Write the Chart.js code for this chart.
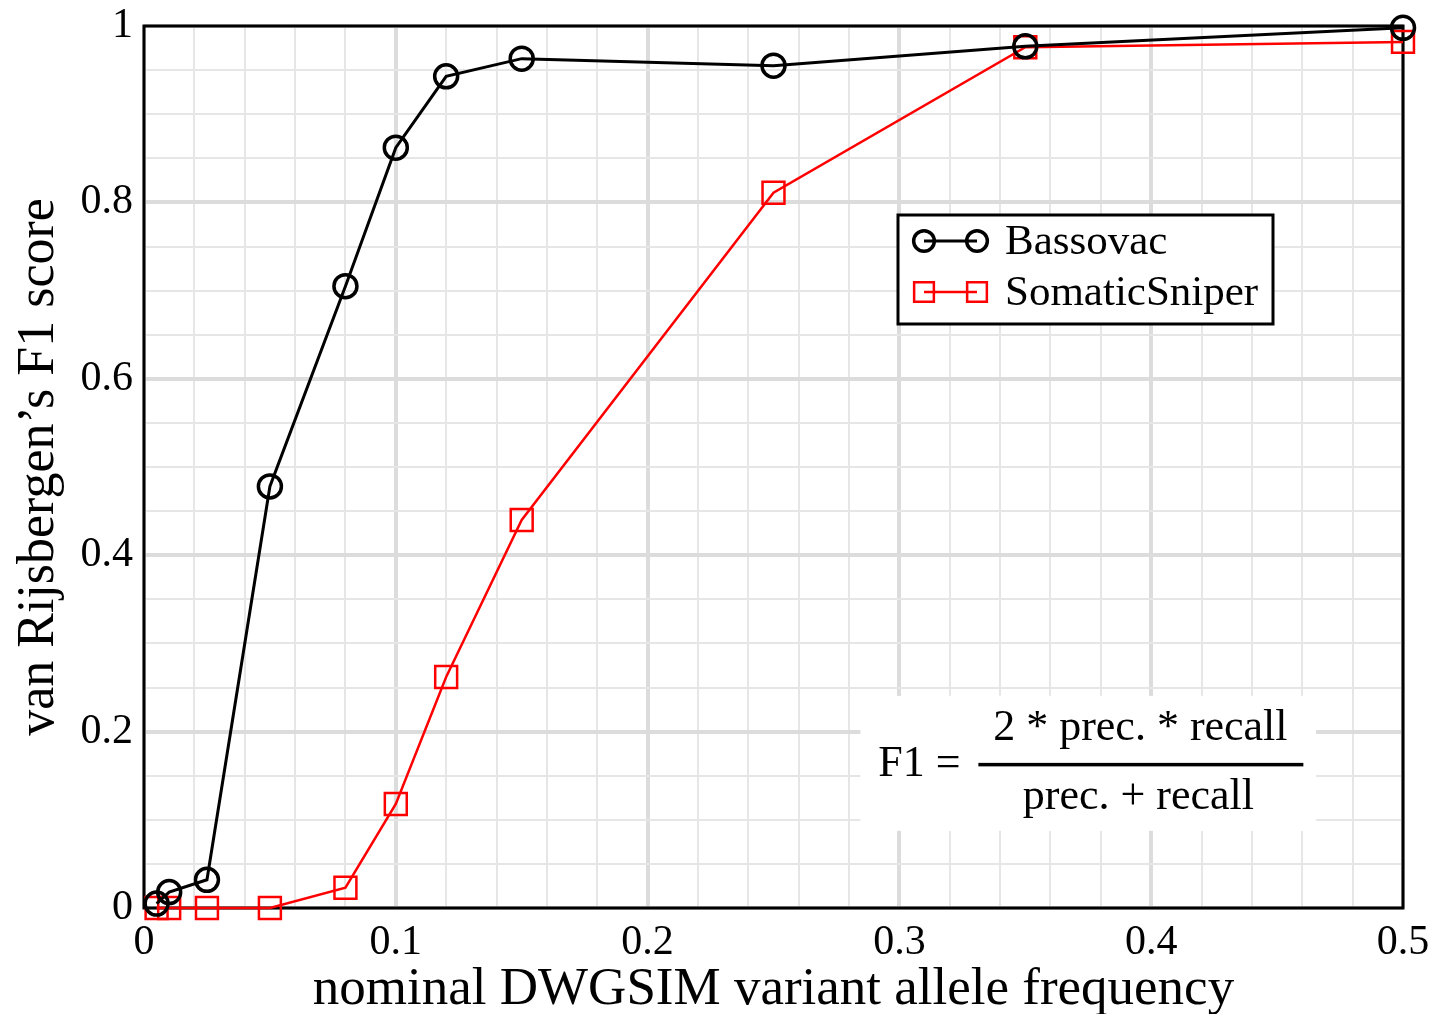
<!DOCTYPE html>
<html>
<head>
<meta charset="utf-8">
<style>
  html, body { margin: 0; padding: 0; background: #fff; }
  #wrap { width: 1435px; height: 1014px; }
</style>
<script src="https://cdn.jsdelivr.net/npm/chart.js@4.4.1/dist/chart.umd.min.js"></script>
</head>
<body>
<div id="wrap"><canvas id="c" width="1435" height="1014"></canvas></div>
<script>
// ---- data ----
const vaf = [0.005, 0.01, 0.025, 0.05, 0.08, 0.1, 0.12, 0.15, 0.25, 0.35, 0.5];
const bassovac = [0.005, 0.018, 0.032, 0.478, 0.705, 0.862, 0.943, 0.963, 0.955, 0.977, 0.998];
const somaticSniper = [0, 0, 0, 0, 0.023, 0.118, 0.262, 0.44, 0.811, 0.976, 0.982];
const seriesNames = ["Bassovac", "SomaticSniper"];
const xTickLabels = ["0", "0.1", "0.2", "0.3", "0.4", "0.5"];
const yTickLabels = ["0", "0.2", "0.4", "0.6", "0.8", "1"];
const xTitle = "nominal DWGSIM variant allele frequency";
const yTitle = "van Rijsbergen\u2019s F1 score";
const formulaLeft = "F1 =";
const formulaNum = "2 * prec. * recall";
const formulaDen = "prec. + recall";

const SERIF = "'Liberation Serif', 'Times New Roman', serif";
const isMult = (v, step) => Math.abs(v / step - Math.round(v / step)) < 1e-6;

const framePlugin = {
  id: 'frame',
  beforeDatasetsDraw(chart) {
    const {ctx, chartArea: a, scales} = chart;
    ctx.save();
    // white box behind formula
    const fx0 = scales.x.getPixelForValue(0.2845), fx1 = scales.x.getPixelForValue(0.4655);
    const fy0 = scales.y.getPixelForValue(0.2405), fy1 = scales.y.getPixelForValue(0.0875);
    ctx.fillStyle = '#fff';
    ctx.fillRect(fx0, fy0, fx1 - fx0, fy1 - fy0);
    // formula
    ctx.fillStyle = '#000';
    ctx.font = "44px " + SERIF;
    ctx.textBaseline = 'alphabetic';
    ctx.textAlign = 'left';
    ctx.fillText(formulaLeft, fx0 + 18, fy0 + 80);
    ctx.textAlign = 'center';
    const cx = fx0 + 280;
    ctx.fillText(formulaNum, cx, fy0 + 44);
    ctx.fillText(formulaDen, cx - 2, fy0 + 113);
    ctx.fillRect(fx0 + 118, fy0 + 67, 325, 3.5);
    // frame
    ctx.strokeStyle = '#000';
    ctx.lineWidth = 3;
    ctx.strokeRect(a.left, a.top, a.right - a.left, a.bottom - a.top);
    ctx.restore();
  },
  afterDatasetsDraw(chart) {
    const {ctx} = chart;
    ctx.save();
    const bx = 898, by = 215, bw = 375, bh = 109;
    ctx.fillStyle = '#fff';
    ctx.fillRect(bx, by, bw, bh);
    ctx.strokeStyle = '#000';
    ctx.lineWidth = 3;
    ctx.strokeRect(bx, by, bw, bh);
    chart.data.datasets.forEach((ds, i) => {
      const y = by + 26 + i * 51;
      const x0 = bx + 26, x1 = bx + 79;
      ctx.strokeStyle = ds.borderColor;
      ctx.lineWidth = ds.borderWidth;
      ctx.beginPath(); ctx.moveTo(x0, y); ctx.lineTo(x1, y); ctx.stroke();
      ctx.lineWidth = ds.pointBorderWidth;
      ctx.fillStyle = 'rgba(0,0,0,0)';
      [x0, x1].forEach(px => {
        Chart.helpers.drawPoint(ctx, {pointStyle: ds.pointStyle, radius: ds.pointRadius * 0.9, borderWidth: ds.pointBorderWidth}, px, y);
      });
      ctx.fillStyle = '#000';
      ctx.font = "43px " + SERIF;
      ctx.textAlign = 'left';
      ctx.textBaseline = 'middle';
      ctx.fillText(ds.label, bx + 107, y + 2);
    });
    ctx.restore();
  }
};

const gridColor = ctx => isMult(ctx.tick.value, ctx.scale.axis === 'x' ? 0.1 : 0.2) ? '#dcdcdc' : '#e6e6e6';

new Chart(document.getElementById('c'), {
  type: 'line',
  data: {
    datasets: [
      {
        label: seriesNames[0],
        data: vaf.map((x, i) => ({x, y: bassovac[i]})),
        borderColor: '#000', borderWidth: 3,
        pointStyle: 'circle', pointRadius: 11.5, pointBorderWidth: 3.5,
        pointBorderColor: '#000', pointBackgroundColor: 'rgba(0,0,0,0)',
        tension: 0, clip: false
      },
      {
        label: seriesNames[1],
        data: vaf.map((x, i) => ({x, y: somaticSniper[i]})),
        borderColor: '#ff0000', borderWidth: 2.5,
        pointStyle: 'rect', pointRadius: 15.5, pointBorderWidth: 2.5,
        pointBorderColor: '#ff0000', pointBackgroundColor: 'rgba(0,0,0,0)',
        tension: 0, clip: false
      }
    ]
  },
  options: {
    responsive: false,
    animation: false,
    events: [],
    layout: { padding: { left: 0, top: 26, right: 32, bottom: 0 } },
    plugins: { legend: { display: false }, tooltip: { enabled: false }, title: { display: false } },
    scales: {
      x: {
        type: 'linear', min: 0, max: 0.5,
        afterFit: s => { s.height = 106; s.paddingLeft = 0; s.paddingRight = 0; },
        afterBuildTicks: s => { s.ticks = []; for (let i = 0; i <= 25; i++) s.ticks.push({value: +(i * 0.02).toFixed(2)}); },
        ticks: {
          autoSkip: false, maxRotation: 0, padding: 10, color: '#000',
          font: { family: SERIF, size: 42 },
          callback: v => isMult(v, 0.1) ? xTickLabels[Math.round(v / 0.1)] : ''
        },
        grid: {
          drawTicks: false, color: gridColor,
          lineWidth: ctx => isMult(ctx.tick.value, 0.1) ? 4 : 2
        },
        border: { display: false },
        title: { display: true, text: xTitle, color: '#000', font: { family: SERIF, size: 53, lineHeight: 0.9 }, padding: { top: 0, bottom: 0 } }
      },
      y: {
        type: 'linear', min: 0, max: 1,
        afterFit: s => { s.width = 144; s.paddingTop = 0; s.paddingBottom = 0; },
        afterBuildTicks: s => { s.ticks = []; for (let i = 0; i <= 20; i++) s.ticks.push({value: +(i * 0.05).toFixed(2)}); },
        ticks: {
          autoSkip: false, padding: 11, color: '#000',
          font: { family: SERIF, size: 42 },
          callback: v => isMult(v, 0.2) ? yTickLabels[Math.round(v / 0.2)] : ''
        },
        grid: {
          drawTicks: false, color: gridColor,
          lineWidth: ctx => isMult(ctx.tick.value, 0.2) ? 4 : 2
        },
        border: { display: false },
        title: { display: true, text: yTitle, color: '#000', font: { family: SERIF, size: 52 }, padding: { top: 8, bottom: 0 } }
      }
    }
  },
  plugins: [framePlugin]
});
</script>
</body>
</html>
